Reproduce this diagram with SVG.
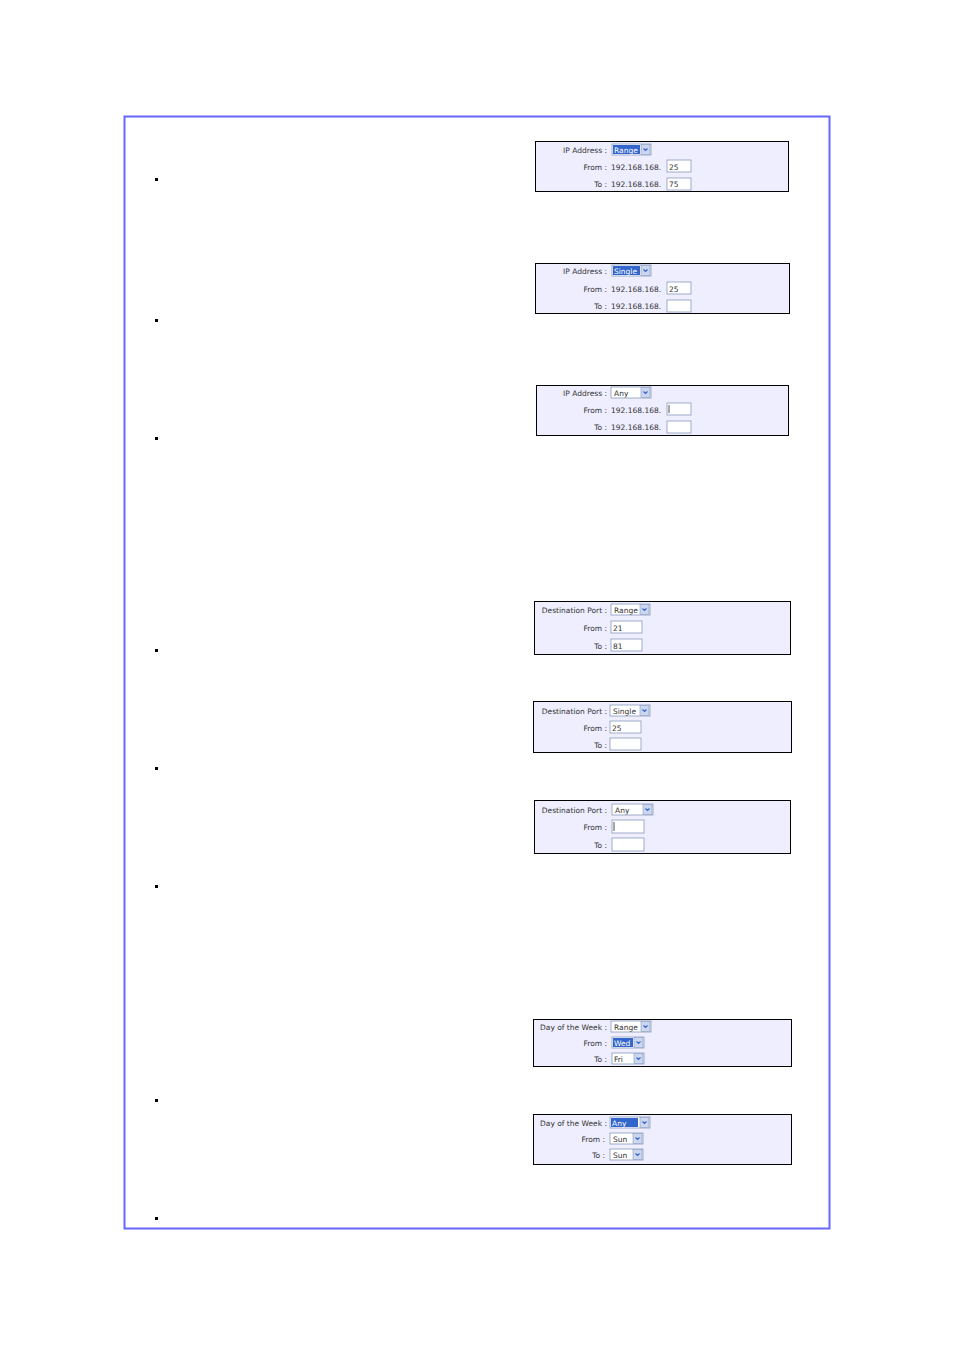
<svg xmlns="http://www.w3.org/2000/svg" width="954" height="1350" viewBox="0 0 954 1350">
<style>
.p{fill:#eeeeff;stroke:#000;stroke-width:1}
.t{font-family:"DejaVu Sans",sans-serif;font-size:7.5px;fill:#333}
.r{text-anchor:end}
.i{fill:#fff;stroke:#8899bb;stroke-width:0.8}
.a{fill:#ccd6f0;stroke:#8899bb;stroke-width:0.6}
.h{fill:#3366cc}
.w{fill:#fff}
.b{fill:#000}
</style>
<defs>
<g id="arr"><rect class="a" x="0" y="0" width="9" height="10"/><path d="M2.5 4 L4.5 6 L6.5 4" fill="none" stroke="#3366cc" stroke-width="1.2"/></g>
</defs>
<rect x="0" y="0" width="954" height="1350" fill="#fff"/>
<rect x="124.5" y="116.5" width="705" height="1112" fill="none" stroke="#6666ff" stroke-width="2"/>
<g id="bullets" class="b">
<rect x="155" y="178" width="3" height="3"/><rect x="155" y="319" width="3" height="3"/><rect x="155" y="437" width="3" height="3"/>
<rect x="155" y="649" width="3" height="3"/><rect x="155" y="767" width="3" height="3"/><rect x="155" y="885" width="3" height="3"/>
<rect x="155" y="1099" width="3" height="3"/><rect x="155" y="1217" width="3" height="3"/>
</g>
<g id="connectors"/>
<g id="ip-range">
<rect class="p" x="535.5" y="141.5" width="253" height="50"/>
<text class="t r" x="607" y="153">IP Address :</text>
<rect class="i" x="612" y="144" width="39" height="11"/><rect class="h" x="613" y="145" width="27" height="9"/><text class="t" x="614" y="153" style="fill:#fff">Range</text><use href="#arr" x="641" y="144.5"/>
<text class="t r" x="607" y="170">From :</text><text class="t" x="611" y="170">192.168.168.</text><rect class="i" x="667" y="160" width="24" height="12"/><text class="t" x="669" y="170">25</text>
<text class="t r" x="607" y="187">To :</text><text class="t" x="611" y="187">192.168.168.</text><rect class="i" x="667" y="178" width="24" height="12"/><text class="t" x="669" y="187">75</text>
</g>
<g id="ip-single">
<rect class="p" x="535.5" y="263.5" width="254" height="50"/>
<text class="t r" x="607" y="274">IP Address :</text>
<rect class="i" x="612" y="265" width="39" height="11"/><rect class="h" x="613" y="266" width="27" height="9"/><text class="t" x="614" y="274" style="fill:#fff">Single</text><use href="#arr" x="641" y="265.5"/>
<text class="t r" x="607" y="292">From :</text><text class="t" x="611" y="292">192.168.168.</text><rect class="i" x="667" y="282" width="24" height="12"/><text class="t" x="669" y="292">25</text>
<text class="t r" x="607" y="309">To :</text><text class="t" x="611" y="309">192.168.168.</text><rect class="i" x="667" y="300" width="24" height="12"/>
</g>
<g id="ip-any">
<rect class="p" x="536.5" y="385.5" width="252" height="50"/>
<text class="t r" x="607" y="396">IP Address :</text>
<rect class="i" x="611" y="387" width="40" height="11"/><text class="t" x="614" y="396">Any</text><use href="#arr" x="641" y="387.5"/>
<text class="t r" x="607" y="413">From :</text><text class="t" x="611" y="413">192.168.168.</text><rect class="i" x="667" y="403" width="24" height="12"/><line x1="669" y1="405" x2="669" y2="413" stroke="#000" stroke-width="0.7"/>
<text class="t r" x="607" y="430">To :</text><text class="t" x="611" y="430">192.168.168.</text><rect class="i" x="667" y="421" width="24" height="12"/>
</g>
<g id="port-range">
<rect class="p" x="534.5" y="601.5" width="256" height="53"/>
<text class="t r" x="607" y="613">Destination Port :</text>
<rect class="i" x="611" y="604" width="39" height="11"/><text class="t" x="614" y="613">Range</text><use href="#arr" x="640" y="604.5"/>
<text class="t r" x="607" y="631">From :</text><rect class="i" x="611" y="621" width="31" height="12"/><text class="t" x="613" y="631">21</text>
<text class="t r" x="607" y="649">To :</text><rect class="i" x="611" y="639" width="31" height="12"/><text class="t" x="613" y="649">81</text>
</g>
<g id="port-single">
<rect class="p" x="533.5" y="701.5" width="258" height="51"/>
<text class="t r" x="607" y="714">Destination Port :</text>
<rect class="i" x="610" y="705" width="40" height="11"/><text class="t" x="613" y="714">Single</text><use href="#arr" x="640" y="705.5"/>
<text class="t r" x="607" y="731">From :</text><rect class="i" x="610" y="721" width="31" height="12"/><text class="t" x="612" y="731">25</text>
<text class="t r" x="607" y="748">To :</text><rect class="i" x="610" y="738" width="31" height="12"/>
</g>
<g id="port-any">
<rect class="p" x="534.5" y="800.5" width="256" height="53"/>
<text class="t r" x="607" y="813">Destination Port :</text>
<rect class="i" x="612" y="804" width="41" height="11"/><text class="t" x="615" y="813">Any</text><use href="#arr" x="643" y="804.5"/>
<text class="t r" x="607" y="830">From :</text><rect class="i" x="612" y="820" width="32" height="13"/><line x1="614" y1="822" x2="614" y2="831" stroke="#000" stroke-width="0.7"/>
<text class="t r" x="607" y="848">To :</text><rect class="i" x="612" y="838" width="32" height="13"/>
</g>
<g id="day-range">
<rect class="p" x="533.5" y="1019.5" width="258" height="47"/>
<text class="t r" x="607" y="1030">Day of the Week :</text>
<rect class="i" x="611" y="1021" width="40" height="11"/><text class="t" x="614" y="1030">Range</text><use href="#arr" x="641" y="1021.5"/>
<text class="t r" x="607" y="1046">From :</text><rect class="i" x="612" y="1037" width="32" height="11"/><rect class="h" x="613" y="1038" width="20" height="9"/><text class="t" x="614" y="1046" style="fill:#fff">Wed</text><use href="#arr" x="634" y="1037.5"/>
<text class="t r" x="607" y="1062">To :</text><rect class="i" x="612" y="1053" width="32" height="11"/><text class="t" x="614" y="1062">Fri</text><use href="#arr" x="634" y="1053.5"/>
</g>
<g id="day-any">
<rect class="p" x="533.5" y="1114.5" width="258" height="50"/>
<text class="t r" x="607" y="1126">Day of the Week :</text>
<rect class="i" x="610" y="1117" width="40" height="11"/><rect class="h" x="611" y="1118" width="27" height="9"/><text class="t" x="612" y="1126" style="fill:#fff">Any</text><use href="#arr" x="640" y="1117.5"/>
<text class="t r" x="605" y="1142">From :</text><rect class="i" x="610" y="1133" width="33" height="11"/><text class="t" x="613" y="1142">Sun</text><use href="#arr" x="633" y="1133.5"/>
<text class="t r" x="605" y="1158">To :</text><rect class="i" x="610" y="1149" width="33" height="11"/><text class="t" x="613" y="1158">Sun</text><use href="#arr" x="633" y="1149.5"/>
</g>
</svg>
